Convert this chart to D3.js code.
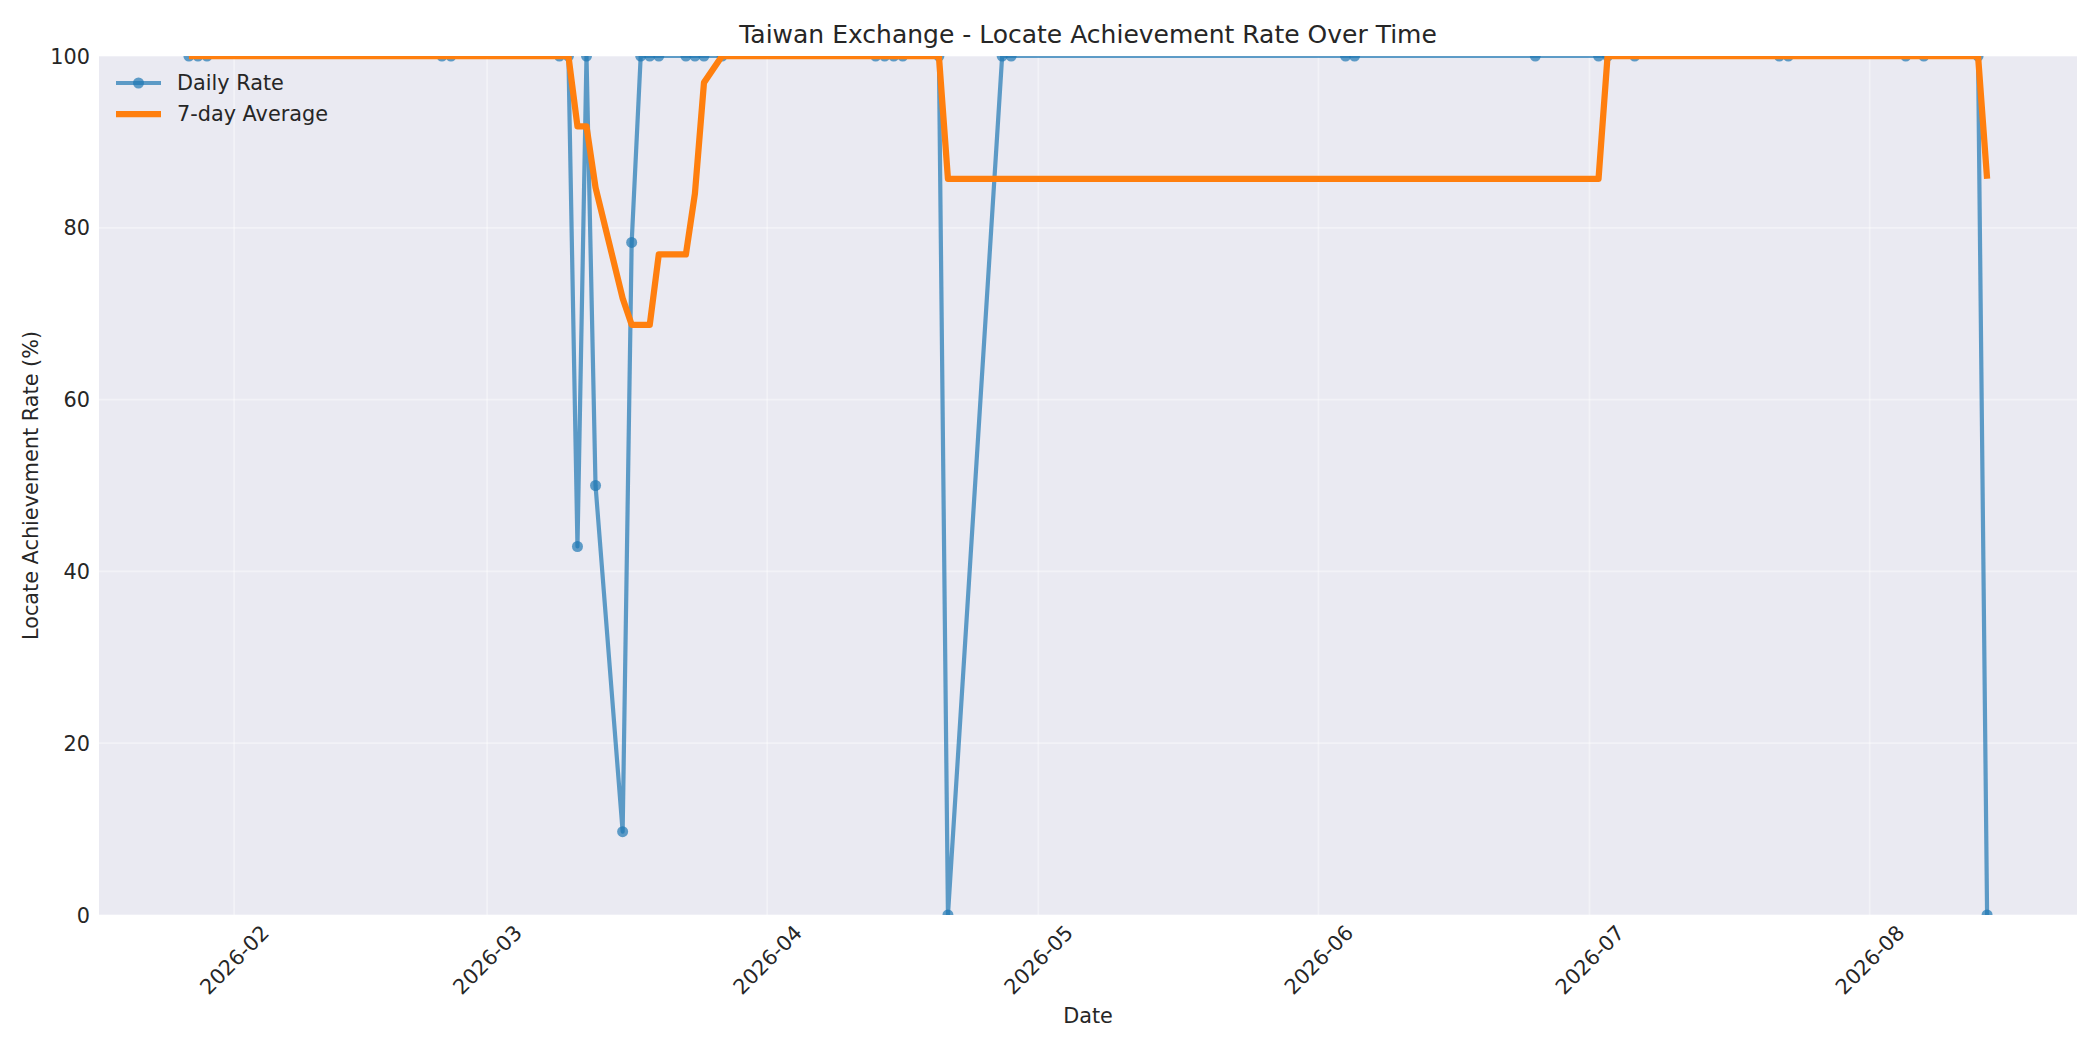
<!DOCTYPE html>
<html>
<head>
<meta charset="utf-8">
<script src="https://cdn.jsdelivr.net/npm/d3@7"></script>
<style>
  body { margin: 0; background: #fff; }
  text { font-family: "DejaVu Sans", sans-serif; fill: #262626; }
</style>
</head>
<body>
<div id="chart-container"></div>
<script>
// trading days with a locate record
const dates = [
  "2026-01-27", "2026-01-28", "2026-01-29",
  "2026-02-24", "2026-02-25",
  "2026-03-09", "2026-03-10", "2026-03-11", "2026-03-12", "2026-03-13",
  "2026-03-16", "2026-03-17", "2026-03-18", "2026-03-19", "2026-03-20",
  "2026-03-23", "2026-03-24", "2026-03-25", "2026-03-27",
  "2026-04-13", "2026-04-14", "2026-04-15", "2026-04-16",
  "2026-04-20", "2026-04-21", "2026-04-27", "2026-04-28",
  "2026-06-04", "2026-06-05", "2026-06-25",
  "2026-07-02", "2026-07-03", "2026-07-06", "2026-07-22", "2026-07-23",
  "2026-08-05", "2026-08-07", "2026-08-13", "2026-08-14"
];

const dailyRate = [
  100, 100, 100,
  100, 100,
  100, 100, 42.9, 100, 50,
  9.7, 78.3, 100, 100, 100,
  100, 100, 100, 100,
  100, 100, 100, 100,
  100, 0, 100, 100,
  100, 100, 100,
  100, 100, 100, 100, 100,
  100, 100, 100, 0
];

const avg7 = [
  100, 100, 100,
  100, 100,
  100, 100, 91.8, 91.8, 84.7,
  71.8, 68.7, 68.7, 68.7, 76.9,
  76.9, 84.0, 96.9, 100,
  100, 100, 100, 100,
  100, 85.7, 85.7, 85.7,
  85.7, 85.7, 85.7,
  85.7, 100, 100, 100, 100,
  100, 100, 100, 85.7
];

const yTicks = [0, 20, 40, 60, 80, 100];

const titleText = "Taiwan Exchange - Locate Achievement Rate Over Time";
const xLabel = "Date";
const yLabel = "Locate Achievement Rate (%)";
const seriesNames = ["Daily Rate", "7-day Average"];

function chart() {
  const width = 2100;
  const height = 1050;
  const marginTop = 56;
  const marginRight = 23;
  const marginBottom = 135;
  const marginLeft = 99;

  const parse = d3.utcParse("%Y-%m-%d");
  const data = dates.map((d, i) => ({date: parse(d), rate: dailyRate[i], avg: avg7[i]}));

  // matplotlib style 5% margin on the date extent
  const [d0, d1] = d3.extent(data, d => d.date);
  const pad = (d1 - d0) * 0.05;

  const x = d3.scaleUtc()
    .domain([new Date(+d0 - pad), new Date(+d1 + pad)])
    .range([marginLeft, width - marginRight]);

  const y = d3.scaleLinear()
    .domain([0, 100])
    .range([height - marginBottom, marginTop]);

  const svg = d3.create("svg")
    .attr("width", width)
    .attr("height", height)
    .attr("viewBox", [0, 0, width, height]);

  svg.append("defs").append("clipPath")
    .attr("id", "plot-clip")
    .append("rect")
    .attr("x", marginLeft)
    .attr("y", marginTop)
    .attr("width", width - marginLeft - marginRight)
    .attr("height", height - marginTop - marginBottom);

  // plot background
  svg.append("rect")
    .attr("x", marginLeft)
    .attr("y", marginTop)
    .attr("width", width - marginLeft - marginRight)
    .attr("height", height - marginTop - marginBottom)
    .attr("fill", "#eaeaf2");

  const monthTicks = x.ticks(d3.utcMonth.every(1));

  // grid
  const grid = svg.append("g")
    .attr("stroke", "#ffffff")
    .attr("stroke-opacity", 0.4)
    .attr("stroke-width", 1.7);
  grid.selectAll(".vgrid")
    .data(monthTicks)
    .join("line")
    .attr("x1", d => x(d)).attr("x2", d => x(d))
    .attr("y1", marginTop).attr("y2", height - marginBottom);
  grid.selectAll(".hgrid")
    .data(yTicks)
    .join("line")
    .attr("x1", marginLeft).attr("x2", width - marginRight)
    .attr("y1", d => y(d)).attr("y2", d => y(d));

  //x-axis
  const xAxis = svg.append("g")
    .attr("transform", `translate(0,${height - marginBottom})`)
    .call(d3.axisBottom(x).tickValues(monthTicks).tickFormat(d3.utcFormat("%Y-%m")).tickSize(0));
  xAxis.select(".domain").remove();
  xAxis.selectAll("text")
    .attr("y", 0)
    .attr("dy", null)
    .attr("text-anchor", "middle")
    .attr("dominant-baseline", "central")
    .attr("transform", "translate(0,45) rotate(-45)")
    .style("font-size", "20.8px")
    .style("font-family", "DejaVu Sans")
    .attr("fill", "#262626");

  //y-axis
  const yAxis = svg.append("g")
    .attr("transform", `translate(${marginLeft},0)`)
    .call(d3.axisLeft(y).tickValues(yTicks).tickSize(0).tickPadding(9));
  yAxis.select(".domain").remove();
  yAxis.selectAll("text")
    .attr("dy", null)
    .attr("dominant-baseline", "central")
    .style("font-size", "20.8px")
    .style("font-family", "DejaVu Sans")
    .attr("fill", "#262626");

  const plot = svg.append("g").attr("clip-path", "url(#plot-clip)");

  const rateLine = d3.line().x(d => x(d.date)).y(d => y(d.rate));
  const avgLine = d3.line().x(d => x(d.date)).y(d => y(d.avg));

  plot.append("path")
    .datum(data)
    .attr("fill", "none")
    .attr("stroke", "#1f77b4")
    .attr("stroke-opacity", 0.7)
    .attr("stroke-width", 4.2)
    .attr("stroke-linejoin", "round")
    .attr("d", rateLine);

  plot.append("g")
    .selectAll("circle")
    .data(data)
    .join("circle")
    .attr("cx", d => x(d.date))
    .attr("cy", d => y(d.rate))
    .attr("r", 5.5)
    .attr("fill", "#1f77b4")
    .attr("fill-opacity", 0.7);

  plot.append("path")
    .datum(data)
    .attr("fill", "none")
    .attr("stroke", "#ff7f0e")
    .attr("stroke-width", 6.25)
    .attr("stroke-linejoin", "round")
    .attr("d", avgLine);

  // legend (no frame, seaborn style)
  const legend = svg.append("g");
  const rows = [
    {name: seriesNames[0], color: "#1f77b4", opacity: 0.7, w: 4.2, marker: true, cy: 83},
    {name: seriesNames[1], color: "#ff7f0e", opacity: 1, w: 6.25, marker: false, cy: 114}
  ];
  rows.forEach(r => {
    legend.append("line")
      .attr("x1", 116).attr("x2", 161)
      .attr("y1", r.cy).attr("y2", r.cy)
      .attr("stroke", r.color)
      .attr("stroke-opacity", r.opacity)
      .attr("stroke-width", r.w);
    if (r.marker) {
      legend.append("circle")
        .attr("cx", 138.5).attr("cy", r.cy).attr("r", 5.5)
        .attr("fill", r.color).attr("fill-opacity", r.opacity);
    }
    legend.append("text")
      .attr("x", 177).attr("y", r.cy)
      .attr("dominant-baseline", "central")
      .style("font-size", "20.8px")
      .text(r.name);
  });

  // title and axis labels
  svg.append("text")
    .attr("x", (marginLeft + width - marginRight) / 2)
    .attr("y", 43)
    .attr("text-anchor", "middle")
    .style("font-size", "25px")
    .text(titleText);

  svg.append("text")
    .attr("x", (marginLeft + width - marginRight) / 2)
    .attr("y", 1023)
    .attr("text-anchor", "middle")
    .style("font-size", "20.8px")
    .text(xLabel);

  svg.append("text")
    .attr("transform", `translate(31,${(marginTop + height - marginBottom) / 2}) rotate(-90)`)
    .attr("text-anchor", "middle")
    .attr("dominant-baseline", "central")
    .style("font-size", "20.8px")
    .text(yLabel);

  d3.select("#chart-container").append(() => svg.node());
}

chart();
</script>
</body>
</html>
